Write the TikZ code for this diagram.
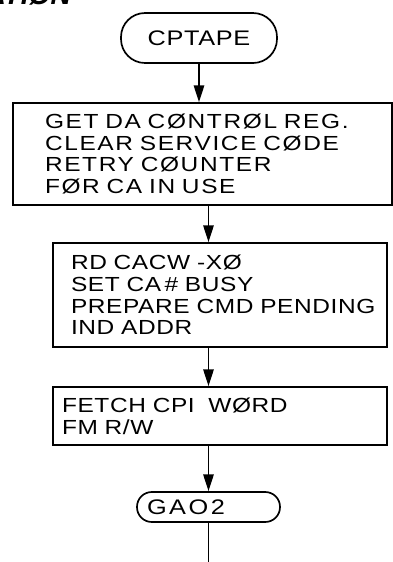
\documentclass[tikz,border=0pt]{standalone}
\usepackage{fontspec}
\setmainfont{Liberation Sans}
\newfontfamily\handfont[FakeStretch=1.2,LetterSpace=3]{Liberation Sans}
\newfontfamily\widehandfont[FakeStretch=1.2,LetterSpace=8,WordSpace=1.8]{Liberation Sans}
\usetikzlibrary{arrows.meta}

\begin{document}
\begin{tikzpicture}[
        every node/.style={font=\handfont\fontsize{14.5}{15.4}\selectfont},
        procbox/.style={draw,line width=1.2pt,align=left,inner ysep=0pt},
        termbox/.style={draw,line width=1.2pt,rounded corners=0.37cm,inner ysep=0pt},
        ->,>={Stealth[length=4.2mm,width=2.6mm,inset=0pt]},line width=1.2pt
    ]
        \useasboundingbox (0,0) rectangle (9.825,-14.05);

        \node[anchor=base west,font=\fontsize{20}{20}\bfseries\itshape\selectfont] (head) at (-0.5,-0.1) {ATIØN};

        \node[termbox,rounded corners=0.6cm,minimum width=3.9cm,minimum height=1.25cm,
            font=\handfont\fontsize{15}{15}\selectfont] (cptape) at (4.975,-0.95) {CPTAPE};
        \node[procbox,text width=7.875cm,inner xsep=0.8cm,minimum height=2.55cm,
            font=\widehandfont\fontsize{14.5}{15.4}\selectfont] (box1) at (5.0625,-3.85)
            {GET DA CØNTRØL REG.\\CLEAR SERVICE CØDE\\RETRY CØUNTER\\FØR CA IN USE};
        \node[procbox,text width=7.45cm,inner xsep=0.45cm,minimum height=2.6cm] (box2) at (5.5,-7.375)
            {RD CACW -XØ\\SET CA\,\# BUSY\\\mbox{PREPARE CMD PENDING}\\IND ADDR};
        \node[procbox,text width=7.9cm,inner xsep=0.225cm,minimum height=1.45cm] (box3) at (5.5,-10.4)
            {FETCH CPI~~WØRD\\FM R/W};
        \node[termbox,text width=3.075cm,inner xsep=0.25cm,minimum height=0.75cm,align=left,
            font=\handfont\addfontfeature{LetterSpace=12}\fontsize{15}{15}\selectfont] (ga02) at (5.2125,-12.675) {GAO2};
        \coordinate (exit) at (5.2125,-14.05);

        \draw (cptape.south) -- (cptape.south |- box1.north);
        \draw (box1.south -| ga02.south) -- (box2.north -| ga02.south);
        \draw (box2.south -| ga02.south) -- (box3.north -| ga02.south);
        \draw (box3.south -| ga02.south) -- (ga02.north);
        \draw[-] (ga02.south) -- (exit);
    \end{tikzpicture}
\end{document}
